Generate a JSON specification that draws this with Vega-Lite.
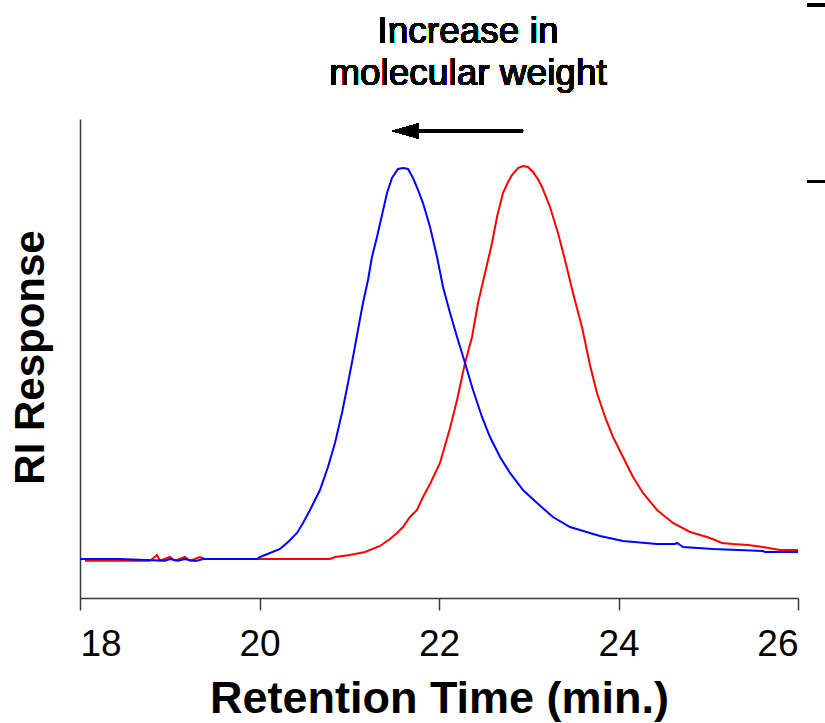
{
  "$schema": "https://vega.github.io/schema/vega-lite/v6.json",
  "autosize": {"type": "none"},
  "padding": {"left": 80, "top": 119, "right": 27, "bottom": 125},
  "width": 718,
  "height": 479,
  "config": {
    "view": {"stroke": null},
    "font": "Liberation Sans"
  },
  "datasets": {
    "curves": [
      {"t": 18.056, "r": 7.79, "s": "red"},
      {"t": 18.780, "r": 7.79, "s": "red"},
      {"t": 18.858, "r": 8.98, "s": "red"},
      {"t": 18.891, "r": 7.79, "s": "red"},
      {"t": 19.003, "r": 8.56, "s": "red"},
      {"t": 19.058, "r": 7.79, "s": "red"},
      {"t": 19.170, "r": 8.56, "s": "red"},
      {"t": 19.226, "r": 7.79, "s": "red"},
      {"t": 19.337, "r": 8.56, "s": "red"},
      {"t": 19.393, "r": 8.14, "s": "red"},
      {"t": 19.972, "r": 8.14, "s": "red"},
      {"t": 20.786, "r": 8.14, "s": "red"},
      {"t": 20.841, "r": 8.56, "s": "red"},
      {"t": 21.008, "r": 8.98, "s": "red"},
      {"t": 21.175, "r": 9.60, "s": "red"},
      {"t": 21.343, "r": 10.86, "s": "red"},
      {"t": 21.454, "r": 12.32, "s": "red"},
      {"t": 21.532, "r": 13.57, "s": "red"},
      {"t": 21.599, "r": 14.82, "s": "red"},
      {"t": 21.677, "r": 16.91, "s": "red"},
      {"t": 21.755, "r": 18.37, "s": "red"},
      {"t": 21.822, "r": 21.09, "s": "red"},
      {"t": 21.900, "r": 23.80, "s": "red"},
      {"t": 22.011, "r": 28.18, "s": "red"},
      {"t": 22.123, "r": 35.49, "s": "red"},
      {"t": 22.201, "r": 41.34, "s": "red"},
      {"t": 22.290, "r": 49.06, "s": "red"},
      {"t": 22.368, "r": 54.49, "s": "red"},
      {"t": 22.435, "r": 61.59, "s": "red"},
      {"t": 22.513, "r": 67.85, "s": "red"},
      {"t": 22.591, "r": 74.11, "s": "red"},
      {"t": 22.646, "r": 79.54, "s": "red"},
      {"t": 22.713, "r": 84.55, "s": "red"},
      {"t": 22.768, "r": 86.80, "s": "red"},
      {"t": 22.813, "r": 88.31, "s": "red"},
      {"t": 22.880, "r": 89.77, "s": "red"},
      {"t": 22.936, "r": 90.19, "s": "red"},
      {"t": 22.992, "r": 89.98, "s": "red"},
      {"t": 23.047, "r": 88.94, "s": "red"},
      {"t": 23.100, "r": 87.50, "s": "red"},
      {"t": 23.148, "r": 85.80, "s": "red"},
      {"t": 23.237, "r": 81.63, "s": "red"},
      {"t": 23.326, "r": 76.20, "s": "red"},
      {"t": 23.404, "r": 70.56, "s": "red"},
      {"t": 23.493, "r": 63.67, "s": "red"},
      {"t": 23.593, "r": 56.58, "s": "red"},
      {"t": 23.682, "r": 48.64, "s": "red"},
      {"t": 23.760, "r": 42.80, "s": "red"},
      {"t": 23.850, "r": 37.79, "s": "red"},
      {"t": 23.939, "r": 33.61, "s": "red"},
      {"t": 24.050, "r": 29.44, "s": "red"},
      {"t": 24.162, "r": 25.26, "s": "red"},
      {"t": 24.273, "r": 21.92, "s": "red"},
      {"t": 24.429, "r": 18.37, "s": "red"},
      {"t": 24.607, "r": 15.66, "s": "red"},
      {"t": 24.797, "r": 13.78, "s": "red"},
      {"t": 24.986, "r": 12.73, "s": "red"},
      {"t": 25.075, "r": 12.11, "s": "red"},
      {"t": 25.153, "r": 11.48, "s": "red"},
      {"t": 25.276, "r": 11.27, "s": "red"},
      {"t": 25.443, "r": 11.06, "s": "red"},
      {"t": 25.610, "r": 10.65, "s": "red"},
      {"t": 25.799, "r": 10.02, "s": "red"},
      {"t": 26.000, "r": 10.02, "s": "red"},
      {"t": 18.000, "r": 8.14, "s": "blue"},
      {"t": 18.446, "r": 8.14, "s": "blue"},
      {"t": 18.947, "r": 7.79, "s": "blue"},
      {"t": 19.003, "r": 8.14, "s": "blue"},
      {"t": 19.092, "r": 7.79, "s": "blue"},
      {"t": 19.170, "r": 8.14, "s": "blue"},
      {"t": 19.248, "r": 7.79, "s": "blue"},
      {"t": 19.304, "r": 7.79, "s": "blue"},
      {"t": 19.370, "r": 8.14, "s": "blue"},
      {"t": 19.972, "r": 8.14, "s": "blue"},
      {"t": 20.006, "r": 8.56, "s": "blue"},
      {"t": 20.117, "r": 9.39, "s": "blue"},
      {"t": 20.228, "r": 10.23, "s": "blue"},
      {"t": 20.318, "r": 11.69, "s": "blue"},
      {"t": 20.418, "r": 13.57, "s": "blue"},
      {"t": 20.485, "r": 15.66, "s": "blue"},
      {"t": 20.563, "r": 18.37, "s": "blue"},
      {"t": 20.618, "r": 20.46, "s": "blue"},
      {"t": 20.674, "r": 22.55, "s": "blue"},
      {"t": 20.763, "r": 27.35, "s": "blue"},
      {"t": 20.841, "r": 32.36, "s": "blue"},
      {"t": 20.919, "r": 38.62, "s": "blue"},
      {"t": 20.986, "r": 44.89, "s": "blue"},
      {"t": 21.042, "r": 50.31, "s": "blue"},
      {"t": 21.097, "r": 55.95, "s": "blue"},
      {"t": 21.153, "r": 61.59, "s": "blue"},
      {"t": 21.209, "r": 66.39, "s": "blue"},
      {"t": 21.253, "r": 71.19, "s": "blue"},
      {"t": 21.309, "r": 75.37, "s": "blue"},
      {"t": 21.365, "r": 79.96, "s": "blue"},
      {"t": 21.421, "r": 84.55, "s": "blue"},
      {"t": 21.476, "r": 87.68, "s": "blue"},
      {"t": 21.543, "r": 89.56, "s": "blue"},
      {"t": 21.599, "r": 89.77, "s": "blue"},
      {"t": 21.655, "r": 89.56, "s": "blue"},
      {"t": 21.710, "r": 87.68, "s": "blue"},
      {"t": 21.766, "r": 85.18, "s": "blue"},
      {"t": 21.822, "r": 82.46, "s": "blue"},
      {"t": 21.900, "r": 77.45, "s": "blue"},
      {"t": 21.978, "r": 71.19, "s": "blue"},
      {"t": 22.045, "r": 64.93, "s": "blue"},
      {"t": 22.123, "r": 59.50, "s": "blue"},
      {"t": 22.201, "r": 54.49, "s": "blue"},
      {"t": 22.290, "r": 49.06, "s": "blue"},
      {"t": 22.379, "r": 43.42, "s": "blue"},
      {"t": 22.479, "r": 37.79, "s": "blue"},
      {"t": 22.568, "r": 33.61, "s": "blue"},
      {"t": 22.680, "r": 29.44, "s": "blue"},
      {"t": 22.791, "r": 26.10, "s": "blue"},
      {"t": 22.936, "r": 22.55, "s": "blue"},
      {"t": 23.092, "r": 19.83, "s": "blue"},
      {"t": 23.270, "r": 16.91, "s": "blue"},
      {"t": 23.460, "r": 14.82, "s": "blue"},
      {"t": 23.682, "r": 13.57, "s": "blue"},
      {"t": 23.794, "r": 12.94, "s": "blue"},
      {"t": 24.050, "r": 11.90, "s": "blue"},
      {"t": 24.429, "r": 11.27, "s": "blue"},
      {"t": 24.629, "r": 11.27, "s": "blue"},
      {"t": 24.652, "r": 11.48, "s": "blue"},
      {"t": 24.719, "r": 10.65, "s": "blue"},
      {"t": 25.053, "r": 10.23, "s": "blue"},
      {"t": 25.610, "r": 9.81, "s": "blue"},
      {"t": 25.632, "r": 9.60, "s": "blue"},
      {"t": 26.000, "r": 9.60, "s": "blue"}
    ]
  },
  "data": {"name": "curves"},
  "layer": [
    {
      "transform": [{"filter": "datum.s === 'red'"}],
      "mark": {"type": "line", "color": "#FF0000", "strokeWidth": 2},
      "encoding": {
        "x": {
          "field": "t", "type": "quantitative",
          "scale": {"domain": [18, 26], "nice": false, "zero": false},
          "axis": {
            "values": [18, 20, 22, 24, 26],
            "format": "d",
            "grid": false,
            "domainColor": "#3a3a3a", "domainWidth": 1.5,
            "tickColor": "#3a3a3a", "tickWidth": 1.5, "tickSize": 12,
            "labelFont": "Liberation Sans", "labelFontSize": 37, "labelColor": "#000000",
            "labelBaseline": "top", "labelPadding": 16,
            "title": "Retention Time (min.)",
            "titleFont": "Liberation Sans", "titleFontSize": 45, "titleFontWeight": "bold", "titleColor": "#000000",
            "titleBaseline": "alphabetic", "titleY": 114, "titleX": 359, "titleAlign": "center"
          }
        },
        "y": {
          "field": "r", "type": "quantitative",
          "scale": {"domain": [0, 100], "nice": false, "zero": false},
          "axis": {
            "labels": false, "ticks": false, "grid": false,
            "domainColor": "#3a3a3a", "domainWidth": 1.5,
            "title": "RI Response",
            "titleFont": "Liberation Sans", "titleFontSize": 42, "titleFontWeight": "bold", "titleColor": "#000000",
            "titleAngle": -90, "titleAlign": "center", "titleBaseline": "middle",
            "titleX": -50, "titleY": 238
          }
        }
      }
    },
    {
      "transform": [{"filter": "datum.s === 'blue'"}],
      "mark": {"type": "line", "color": "#0000FF", "strokeWidth": 2},
      "encoding": {
        "x": {"field": "t", "type": "quantitative"},
        "y": {"field": "r", "type": "quantitative"}
      }
    },
    {
      "mark": {"type": "rule", "color": "#000000", "strokeWidth": 3.5},
      "encoding": {
        "x": {"datum": 21.75},
        "x2": {"datum": 22.936},
        "y": {"datum": 97.5}
      }
    },
    {
      "mark": {"type": "point", "shape": "M-1,0L1,-0.58L1,0.58Z", "filled": true, "color": "#000000", "opacity": 1, "size": 676, "strokeWidth": 0},
      "encoding": {
        "x": {"datum": 21.622},
        "y": {"datum": 97.5}
      }
    },
    {
      "mark": {"type": "text", "font": "Liberation Sans", "fontSize": 37, "color": "#000000", "align": "center", "baseline": "alphabetic"},
      "encoding": {
        "x": {"datum": 22.323},
        "y": {"datum": 115.9},
        "text": {"value": "Increase in"}
      }
    },
    {
      "mark": {"type": "text", "font": "Liberation Sans", "fontSize": 37, "color": "#000000", "align": "center", "baseline": "alphabetic"},
      "encoding": {
        "x": {"datum": 22.323},
        "y": {"datum": 107.1},
        "text": {"value": "molecular weight"}
      }
    },
    {
      "mark": {"type": "rule", "color": "#000000", "strokeWidth": 3, "clip": false},
      "encoding": {
        "x": {"datum": 26.1},
        "x2": {"datum": 26.32},
        "y": {"datum": 123.8}
      }
    },
    {
      "mark": {"type": "rule", "color": "#000000", "strokeWidth": 3, "clip": false},
      "encoding": {
        "x": {"datum": 26.1},
        "x2": {"datum": 26.32},
        "y": {"datum": 86.95}
      }
    }
  ]
}
